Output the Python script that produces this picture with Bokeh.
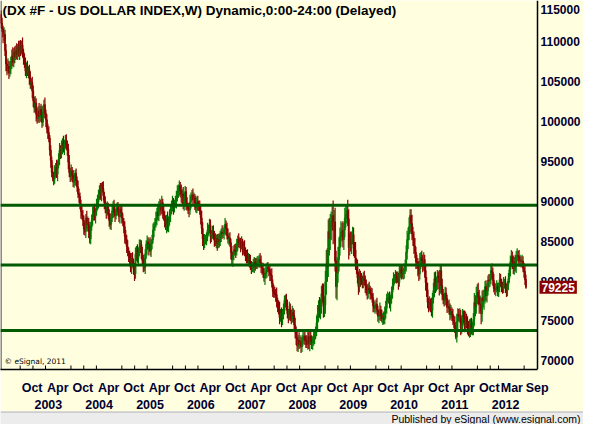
import numpy as np
import pandas as pd
from bokeh.plotting import figure
from bokeh.models import Range1d, FixedTicker, LinearAxis, Label, Span
from bokeh.core.properties import value
from bokeh.layouts import column
from bokeh.embed import file_html
from bokeh.resources import INLINE

# ---------------- data (weekly bars, index points) ----------------
first_open = 113.4
close_2002 = [112.3, 111.6, 110.6,
              110.9, 108.9, 107.2, 106.4,
              106.9, 106.1, 106.6, 107.5,
              108.2, 107.4, 108.7, 108.1, 108.9,
              108.4, 109.3, 108.6, 109.5,
              108.8, 109.6, 108.7, 107.9,
              107.2, 106.3, 106.9, 106.1, 106.5,
              105.4, 104.6, 104.9, 103.8]
close_2003 = [102.6, 101.7, 102.3, 100.9, 100.4,
              101.3, 100.6, 101.5, 100.8,
              99.9, 101.2, 102.1, 101.0,
              100.2, 99.1, 98.6, 97.9,
              96.4, 95.1, 93.6, 93.0, 92.8,
              93.7, 94.2, 93.4, 94.6,
              95.3, 96.4, 96.0, 96.8,
              97.3, 96.6, 97.2, 97.6, 97.1,
              96.5, 94.9, 93.6, 93.1,
              93.8, 93.2, 92.4, 92.9, 93.5,
              92.6, 91.8, 90.9, 90.6,
              89.6, 88.7, 88.2, 87.6]
close_2004 = [86.5, 86.2, 87.9, 87.1, 87.4,
              86.2, 85.3, 86.8, 87.6,
              88.4, 88.9, 88.1, 88.7,
              89.6, 89.9, 90.8, 91.5, 90.9,
              91.7, 91.6, 90.7, 89.8,
              89.2, 88.7, 89.3, 88.4,
              87.6, 87.1, 87.9, 88.8, 89.4,
              88.6, 88.2, 88.9, 89.2,
              88.7, 88.1, 89.0, 88.6,
              87.9, 87.4, 86.8, 85.6, 85.2,
              84.3, 83.7, 83.1, 82.6,
              81.7, 82.9, 82.3, 81.5, 80.9]
close_2005 = [83.4, 83.9, 82.8, 83.6,
              84.3, 84.6, 83.5, 82.6,
              82.0, 81.7, 83.4, 84.6,
              84.9, 84.1, 84.6, 83.8, 84.7,
              85.2, 86.4, 86.9, 87.2,
              87.8, 88.6, 88.2, 89.5,
              89.6, 88.9, 89.8, 88.6, 88.2,
              87.5, 86.9, 87.8, 86.8,
              87.6, 88.2, 88.9, 89.4, 89.8,
              89.2, 89.7, 89.9, 90.6,
              91.1, 91.5, 91.9, 91.3,
              90.5, 90.9, 89.6, 90.6, 91.2]
close_2006 = [89.7, 89.3, 89.1, 88.9,
              89.9, 90.6, 90.8, 90.2,
              90.4, 89.8, 89.2, 89.9, 89.6,
              89.4, 88.8, 87.9, 86.6,
              85.3, 84.6, 85.2, 85.3,
              85.5, 86.4, 86.6, 87.0, 85.6,
              85.9, 86.2, 85.7, 85.1,
              84.9, 85.3, 84.7, 85.2,
              84.9, 85.7, 86.1, 85.9, 86.0,
              86.4, 87.1, 86.6, 85.7,
              85.3, 85.4, 84.8, 83.6,
              82.7, 83.2, 83.9, 83.8, 83.7]
close_2007 = [84.6, 85.2, 84.8, 84.9,
              84.5, 84.7, 83.9, 84.3,
              83.7, 83.3, 83.1, 82.7, 82.8,
              82.5, 82.0, 81.6, 81.7,
              81.9, 82.4, 82.1, 82.0,
              82.4, 82.6, 82.7, 82.3, 81.8,
              81.6, 81.0, 80.4, 80.9,
              81.2, 81.7, 81.6, 81.3, 80.9,
              80.7, 79.7, 78.8, 78.5,
              78.4, 78.3, 77.4, 76.9,
              76.4, 75.4, 75.9, 75.2, 76.0,
              76.3, 77.6, 77.6, 76.9]
close_2008 = [75.9, 75.6, 76.5, 75.8,
              75.3, 76.1, 75.7, 74.5, 73.6,
              72.9, 71.9, 72.6, 72.1,
              72.4, 71.8, 72.5, 72.9,
              73.1, 72.6, 72.5, 72.1, 73.0,
              72.1, 73.1, 72.5, 72.3,
              72.5, 72.9, 73.4, 73.6,
              74.8, 75.9, 76.8, 76.3, 77.1,
              78.4, 78.2, 76.8, 77.0,
              79.9, 82.1, 81.8, 86.2, 85.3,
              86.8, 87.5, 88.2, 86.4,
              87.4, 82.5, 79.3, 81.0]
close_2009 = [82.7, 84.2, 85.6, 86.1, 86.3,
              85.2, 86.4, 87.9, 88.3,
              88.8, 87.8, 84.2, 85.1,
              84.6, 85.4, 85.8, 84.1,
              83.9, 82.2, 81.8, 80.4, 79.3,
              80.6, 80.2, 80.1, 79.9,
              80.4, 80.1, 79.4, 78.9, 78.5,
              79.1, 78.9, 78.5, 78.3,
              77.9, 76.9, 76.6, 76.9,
              77.1, 76.4, 75.6, 75.6, 76.4,
              75.7, 75.3, 75.4, 75.2,
              76.1, 76.6, 77.8, 77.9]
close_2010 = [77.9, 77.1, 77.8, 78.6, 79.4,
              80.4, 80.4, 80.6, 80.4,
              80.4, 79.8, 81.2, 81.5,
              81.0, 80.9, 81.2, 81.5, 81.9,
              83.6, 85.2, 85.9, 86.8,
              88.2, 87.2, 85.9, 85.4,
              84.4, 83.6, 82.4, 82.3, 81.7,
              80.9, 82.5, 82.9, 82.6,
              81.9, 82.7, 81.3, 79.8,
              78.9, 77.3, 76.9, 77.3, 77.0,
              76.3, 77.8, 78.8, 80.3,
              79.3, 79.8, 80.6, 80.5, 79.0]
close_2011 = [81.3, 79.4, 78.3, 77.9,
              77.6, 78.5, 77.8, 76.7,
              76.8, 76.6, 75.8, 76.2,
              75.8, 75.1, 74.8, 74.0, 73.0,
              74.9, 75.8, 75.6, 75.7,
              74.1, 74.5, 75.7, 75.5,
              74.3, 75.2, 75.0, 74.1, 73.8,
              74.1, 74.5, 74.1, 74.2,
              75.2, 77.3, 76.8, 78.2, 78.6,
              78.0, 77.0, 77.1, 75.9,
              77.9, 77.5, 78.1, 79.3,
              78.2, 78.8, 80.1, 80.0, 80.2]
close_2012 = [81.3, 81.1, 80.1, 79.1,
              78.9, 79.1, 79.3, 78.8,
              79.2, 80.2, 79.8, 79.3, 79.0,
              79.8, 79.8, 79.1, 78.8,
              79.5, 80.3, 81.4, 82.4,
              83.0, 82.4, 81.6, 82.4, 81.8,
              83.1, 83.2, 83.1, 82.5,
              82.6, 82.5, 82.5, 81.6, 81.2,
              80.2, 79.225]

# upper / lower shadow lengths of each weekly bar (index points)
up_2002 = [0.5, 0.7, 0.4, 0.9, 0.6, 0.8, 0.5, 1.0, 0.7, 0.9, 0.6,
           0.8, 1.1, 0.5, 0.7, 0.6, 0.9, 0.4, 0.8, 0.6, 0.7, 0.5, 0.9, 0.4,
           0.6, 0.8, 0.5, 0.7, 0.4, 0.6, 0.9, 0.5, 0.7]
dn_2002 = [0.6, 0.4, 0.8, 0.5, 0.7, 0.9, 0.6, 0.4, 0.8, 0.5, 0.7,
           0.9, 0.5, 0.6, 0.8, 0.4, 0.6, 0.7, 0.5, 0.9, 0.6, 0.4, 0.7, 0.8,
           0.5, 0.6, 0.9, 0.4, 0.7, 0.8, 0.5, 0.6, 0.9]
up_2003 = [0.7, 0.5, 0.9, 0.6, 0.8, 0.6, 1.0, 0.5, 0.7, 1.1, 0.8, 0.6, 0.9,
           0.5, 0.7, 0.6, 0.8, 0.4, 0.6, 0.5, 0.9, 0.7, 0.8, 0.6, 1.0, 0.5,
           0.7, 0.9, 0.6, 0.8, 0.6, 0.9, 0.5, 0.7, 0.8, 0.5, 0.7, 0.9, 0.6,
           0.8, 0.5, 0.7, 0.6, 0.4, 0.6, 0.5, 0.8, 0.7, 0.5, 0.6, 0.9, 0.7]
dn_2003 = [0.8, 0.6, 0.5, 0.9, 0.7, 0.5, 0.8, 0.6, 0.9, 0.7, 0.5, 0.8, 0.6,
           0.9, 0.6, 0.8, 0.5, 0.7, 0.9, 0.6, 0.5, 0.8, 0.6, 0.7, 0.5, 0.9,
           0.5, 0.8, 0.7, 0.6, 0.9, 0.5, 0.8, 0.6, 0.7, 0.8, 0.9, 0.6, 0.7,
           0.5, 0.8, 0.6, 0.7, 0.9, 0.7, 0.6, 0.5, 0.8, 0.6, 0.9, 0.5, 0.7]
up_2004 = [0.6, 0.8, 0.5, 0.9, 0.7, 0.5, 0.8, 0.6, 0.7, 0.9, 0.6, 0.8, 0.5,
           0.7, 0.9, 0.6, 0.5, 0.8, 0.6, 0.7, 0.9, 0.5, 0.8, 0.6, 0.7, 0.5,
           0.6, 0.9, 0.5, 0.7, 0.6, 0.8, 0.5, 0.7, 0.6, 0.7, 0.8, 0.5, 0.6,
           0.9, 0.6, 0.5, 0.7, 0.8, 0.6, 0.8, 0.5, 0.7, 0.9, 0.6, 0.7, 0.5, 0.8]
dn_2004 = [0.7, 0.5, 0.8, 0.6, 0.9, 0.8, 0.6, 0.7, 0.5, 0.6, 0.8, 0.5, 0.9,
           0.5, 0.7, 0.8, 0.6, 0.7, 0.9, 0.5, 0.6, 0.8, 0.7, 0.9, 0.5, 0.6,
           0.8, 0.6, 0.7, 0.5, 0.9, 0.6, 0.8, 0.5, 0.7, 0.5, 0.7, 0.9, 0.6,
           0.7, 0.5, 0.8, 0.9, 0.6, 0.8, 0.6, 0.7, 0.5, 0.6, 0.8, 0.5, 0.7, 0.9]
up_2005 = [0.8, 0.5, 0.7, 0.6, 0.9, 0.6, 0.5, 0.8, 0.7, 0.9, 0.6, 0.5,
           0.8, 0.6, 0.7, 0.9, 0.5, 0.6, 0.8, 0.5, 0.7, 0.9, 0.6, 0.8, 0.5,
           0.7, 0.6, 0.9, 0.5, 0.8, 0.6, 0.7, 0.5, 0.9, 0.5, 0.8, 0.6, 0.7, 0.9,
           0.6, 0.5, 0.8, 0.7, 0.9, 0.6, 0.7, 0.5, 0.8, 0.6, 0.9, 0.5, 0.7]
dn_2005 = [0.6, 0.9, 0.5, 0.7, 0.5, 0.8, 0.7, 0.6, 0.9, 0.5, 0.8, 0.6,
           0.7, 0.9, 0.5, 0.6, 0.8, 0.7, 0.5, 0.9, 0.6, 0.5, 0.8, 0.6, 0.7,
           0.9, 0.7, 0.5, 0.8, 0.6, 0.8, 0.5, 0.9, 0.6, 0.7, 0.6, 0.8, 0.5, 0.7,
           0.9, 0.6, 0.5, 0.8, 0.6, 0.7, 0.9, 0.5, 0.7, 0.9, 0.6, 0.8, 0.5]
up_2006 = [0.6, 0.8, 0.5, 0.7, 0.9, 0.5, 0.6, 0.8, 0.7, 0.5, 0.9, 0.6, 0.8,
           0.5, 0.7, 0.6, 0.9, 0.8, 0.6, 0.7, 0.5, 0.6, 0.9, 0.5, 0.8, 0.7,
           0.5, 0.7, 0.8, 0.6, 0.9, 0.5, 0.6, 0.7, 0.8, 0.6, 0.5, 0.9, 0.7,
           0.6, 0.8, 0.5, 0.7, 0.9, 0.6, 0.7, 0.5, 0.8, 0.5, 0.6, 0.7, 0.9]
dn_2006 = [0.8, 0.5, 0.7, 0.9, 0.6, 0.8, 0.5, 0.7, 0.5, 0.9, 0.6, 0.7, 0.8,
           0.6, 0.5, 0.8, 0.7, 0.9, 0.7, 0.5, 0.6, 0.8, 0.5, 0.7, 0.6, 0.9,
           0.7, 0.6, 0.5, 0.8, 0.5, 0.8, 0.9, 0.6, 0.7, 0.5, 0.8, 0.6, 0.5,
           0.8, 0.6, 0.9, 0.5, 0.6, 0.8, 0.5, 0.9, 0.7, 0.9, 0.6, 0.5, 0.8]
up_2007 = [0.7, 0.5, 0.8, 0.6, 0.5, 0.9, 0.6, 0.7, 0.8, 0.5, 0.6, 0.9, 0.7,
           0.6, 0.8, 0.5, 0.7, 0.9, 0.6, 0.5, 0.8, 0.7, 0.5, 0.6, 0.8, 0.9,
           0.5, 0.7, 0.6, 0.8, 0.9, 0.6, 0.7, 0.5, 0.8, 0.6, 0.9, 0.5, 0.7,
           0.8, 0.6, 0.9, 0.5, 0.7, 1.0, 0.6, 0.8, 0.5, 0.9, 0.6, 0.7, 0.8]
dn_2007 = [0.5, 0.8, 0.6, 0.7, 0.9, 0.5, 0.7, 0.6, 0.6, 0.8, 0.9, 0.5, 0.7,
           0.8, 0.6, 0.7, 0.5, 0.6, 0.9, 0.8, 0.5, 0.5, 0.7, 0.9, 0.6, 0.8,
           0.8, 0.6, 0.5, 0.9, 0.6, 0.8, 0.5, 0.7, 0.9, 0.7, 0.5, 0.8, 0.6,
           0.5, 0.9, 0.7, 0.8, 0.6, 0.8, 0.5, 1.0, 0.7, 0.8, 0.5, 0.9, 0.6]
up_2008 = [0.8, 0.6, 0.9, 0.7, 0.6, 0.8, 0.5, 0.7, 0.9, 0.7, 0.9, 0.6, 1.0,
           0.8, 0.6, 0.7, 0.9, 0.5, 0.8, 0.6, 0.7, 0.9, 0.8, 0.6, 0.9, 0.7,
           0.6, 0.8, 0.5, 0.7, 0.9, 1.1, 0.8, 1.2, 0.7, 1.0, 1.3, 1.5, 1.1,
           1.4, 1.8, 2.0, 1.5, 1.7, 1.6, 1.2, 1.1, 1.9, 1.5, 1.8, 1.3, 2.0]
dn_2008 = [0.6, 0.9, 0.5, 0.8, 0.7, 0.5, 0.9, 0.6, 0.8, 0.9, 0.7, 0.8, 0.6,
           0.5, 0.8, 0.7, 0.6, 0.8, 0.6, 0.9, 0.5, 0.7, 0.6, 0.9, 0.5, 0.8,
           0.9, 0.6, 0.8, 0.7, 0.5, 0.8, 1.0, 0.9, 1.1, 1.2, 0.9, 1.4, 1.3,
           1.1, 1.6, 1.9, 1.3, 2.1, 1.4, 1.7, 1.2, 1.8, 1.6, 1.3, 1.5, 1.7]
up_2009 = [1.6, 1.3, 1.1, 1.4, 1.0, 1.2, 0.9, 1.3, 1.1, 0.8, 1.4, 1.2, 0.9,
           1.1, 0.8, 1.0, 0.9, 0.8, 1.0, 0.7, 0.9, 0.8, 0.9, 0.7, 0.8, 0.6,
           0.7, 0.9, 0.6, 0.8, 0.7, 0.6, 0.8, 0.5, 0.7, 0.8, 0.6, 0.7, 0.5,
           0.6, 0.8, 0.5, 0.7, 0.9, 0.5, 0.7, 0.6, 0.8, 0.7, 0.9, 0.6, 0.8]
dn_2009 = [1.2, 1.5, 1.0, 1.3, 1.1, 1.0, 1.3, 0.9, 1.2, 1.1, 0.9, 1.5, 1.0,
           0.9, 1.2, 0.8, 1.0, 1.0, 0.8, 0.9, 0.7, 1.0, 0.7, 0.9, 0.6, 0.8,
           0.8, 0.6, 0.9, 0.7, 0.8, 0.7, 0.5, 0.8, 0.6, 0.6, 0.8, 0.5, 0.7,
           0.8, 0.6, 0.7, 0.9, 0.5, 0.7, 0.5, 0.8, 0.6, 0.6, 0.8, 0.7, 0.5]
up_2010 = [0.6, 0.8, 0.5, 0.7, 0.9, 0.7, 0.5, 0.8, 0.6, 0.8, 0.6, 0.7, 0.5,
           0.6, 0.9, 0.5, 0.7, 0.8, 0.9, 1.1, 0.8, 1.2, 0.8, 0.8, 1.1, 0.9,
           0.8, 1.0, 0.7, 0.9, 0.6, 0.8, 1.0, 0.7, 0.9, 0.7, 0.9, 0.6, 0.8,
           0.7, 0.9, 0.6, 0.8, 0.5, 0.9, 0.7, 1.0, 0.8, 0.9, 0.7, 0.8, 0.6, 0.9]
dn_2010 = [0.7, 0.5, 0.9, 0.6, 0.8, 0.5, 0.8, 0.6, 0.7, 0.6, 0.9, 0.5, 0.8,
           0.8, 0.6, 0.7, 0.9, 0.6, 0.7, 0.9, 1.2, 0.8, 0.9, 1.1, 0.8, 1.0,
           1.0, 0.7, 0.9, 0.8, 1.1, 0.9, 0.7, 1.0, 0.8, 0.8, 0.6, 0.9, 1.0,
           0.9, 0.7, 0.8, 0.6, 0.9, 0.7, 0.9, 0.6, 0.8, 0.8, 0.6, 0.9, 0.7, 0.8]
up_2011 = [0.8, 0.6, 0.9, 0.7, 0.6, 0.8, 0.7, 0.5, 0.7, 0.9, 0.6, 0.8,
           0.5, 0.7, 0.6, 0.8, 0.5, 1.0, 0.8, 0.7, 0.9, 0.7, 0.9, 0.8, 0.6,
           0.8, 1.0, 0.7, 0.6, 0.9, 1.1, 0.8, 0.9, 0.7, 0.8, 1.2, 0.9, 1.1, 1.0,
           1.2, 0.9, 1.1, 0.8, 0.9, 1.0, 0.8, 0.7, 0.8, 0.9, 0.6, 0.8, 0.7]
dn_2011 = [0.6, 0.9, 0.7, 0.8, 0.8, 0.6, 0.9, 0.7, 0.6, 0.8, 0.7, 0.5,
           0.8, 0.6, 0.7, 0.5, 0.3, 0.7, 0.9, 0.6, 0.8, 0.9, 0.7, 0.5, 0.8,
           0.7, 0.6, 0.9, 0.8, 0.7, 0.9, 1.1, 0.8, 0.9, 1.0, 0.8, 1.2, 0.9, 1.1,
           0.9, 1.1, 0.8, 1.3, 1.0, 0.8, 1.1, 0.9, 0.7, 0.9, 0.6, 0.8, 0.7]
up_2012 = [0.7, 0.9, 0.6, 0.8, 0.7, 0.6, 0.8, 0.5, 0.6, 0.8, 0.7, 0.5, 0.6,
           0.7, 0.5, 0.8, 0.6, 0.5, 0.7, 0.6, 0.8, 0.9, 0.7, 0.8, 0.6, 0.9,
           0.7, 0.9, 0.6, 0.8, 0.7, 0.5, 0.8, 0.6, 0.7, 0.8, 0.6]
dn_2012 = [0.6, 0.8, 0.7, 0.5, 0.6, 0.8, 0.5, 0.7, 0.8, 0.6, 0.5, 0.7, 0.6,
           0.5, 0.7, 0.6, 0.8, 0.7, 0.6, 0.5, 0.8, 0.6, 0.9, 0.7, 0.8, 0.6,
           0.8, 0.6, 0.9, 0.7, 0.6, 0.8, 0.7, 0.5, 0.8, 0.7, 0.2]
first_week = "2002-05-17"

levels = [89500, 82000, 73800]
y_ticks = [70000, 75000, 80000, 85000, 90000, 95000, 100000, 105000, 110000]
y_top_tick = 115000
last_label = "79225"

month_dates = ["2002-10-01", "2003-04-01", "2003-10-01", "2004-04-01", "2004-10-01",
               "2005-04-01", "2005-10-01", "2006-04-01", "2006-10-01", "2007-04-01",
               "2007-10-01", "2008-04-01", "2008-10-01", "2009-04-01", "2009-10-01",
               "2010-04-01", "2010-10-01", "2011-04-01", "2011-10-01", "2012-03-01",
               "2012-09-01"]
month_labels = ["Oct", "Apr", "Oct", "Apr", "Oct", "Apr", "Oct", "Apr", "Oct", "Apr",
                "Oct", "Apr", "Oct", "Apr", "Oct", "Apr", "Oct", "Apr", "Oct", "Mar", "Sep"]
year_dates = ["2003-01-01", "2004-01-01", "2005-01-01", "2006-01-01", "2007-01-01",
              "2008-01-01", "2009-01-01", "2010-01-01", "2011-01-01", "2012-01-01"]
year_labels = ["2003", "2004", "2005", "2006", "2007", "2008", "2009", "2010", "2011", "2012"]

# ---------------- styling ----------------
CREAM = "#ffffe0"
GREEN = "#007800"
RED = "#8c0000"
LINE_GREEN = "#005a00"
TXT = "#000030"
FONT = "Liberation Sans"
TOTAL_W = 583
FH = 369
DW = 537                      # width of the price area (up to the right axis line)
XS, XE = -20.2, 531.3          # weeks relative to 2002-10-01
YS, YE = 68920, 115150
LBL_SIZE = 12.5

closes = np.array(close_2002 + close_2003 + close_2004 + close_2005 + close_2006 +
                  close_2007 + close_2008 + close_2009 + close_2010 + close_2011 +
                  close_2012) * 1000.0
ups = np.array(up_2002 + up_2003 + up_2004 + up_2005 + up_2006 + up_2007 + up_2008 +
               up_2009 + up_2010 + up_2011 + up_2012) * 1000.0
dns = np.array(dn_2002 + dn_2003 + dn_2004 + dn_2005 + dn_2006 + dn_2007 + dn_2008 +
               dn_2009 + dn_2010 + dn_2011 + dn_2012) * 1000.0
opens = np.concatenate([[first_open * 1000.0], closes[:-1]])
body_top = np.maximum(opens, closes)
body_bot = np.minimum(opens, closes)
highs = body_top + ups
lows = body_bot - dns
dates = pd.date_range(first_week, periods=len(closes), freq="7D")
origin = pd.Timestamp("2002-10-01")
wx = np.array((dates - origin).days / 7.0)

def wk(d):
    return (pd.Timestamp(d) - origin).days / 7.0

EM = {"O": .778, "c": .556, "t": .333, "A": .722, "p": .611, "r": .389,
      "M": .833, "a": .556, "S": .667, "e": .556}
def text_w(s, size):
    return sum(EM.get(ch, .556) for ch in s) * size

ppw = DW / (XE - XS)
XR = XS + TOTAL_W / ppw         # frame covers the label column too

def centers(dlist, labels, size, gap=1.5):
    out, prev_end = [], -1e9
    for d, s in zip(dlist, labels):
        t = wk(d)
        start = max(t + gap / ppw, prev_end + 1.0 / ppw)
        wpx = text_w(s, size)
        out.append(round(start + wpx / 2 / ppw, 4))
        prev_end = start + wpx / ppw
    return out

p = figure(frame_width=TOTAL_W, frame_height=FH, x_range=Range1d(XS, XR), y_range=Range1d(YS, YE),
           toolbar_location=None, output_backend="svg",
           min_border_left=0, min_border_top=0, min_border_bottom=0, min_border_right=0,
           background_fill_color=CREAM, border_fill_color=CREAM, outline_line_color=None)
p.grid.visible = False
p.yaxis.visible = False

# left border
p.segment(x0=[XS], x1=[XS], y0=[YS], y1=[YE], line_color="#8a8a8a", line_width=3)

# bars
up = closes >= opens
cols = np.where(up, GREEN, RED)
p.segment(x0=wx, x1=wx, y0=lows, y1=highs, line_color=cols, line_width=1.2)
p.vbar(x=wx, width=1.0, top=body_top, bottom=body_bot,
       fill_color=cols, line_color=cols, line_width=0.8)

# horizontal levels
p.segment(x0=[XS] * len(levels), x1=[XE] * len(levels), y0=levels, y1=levels,
          line_color=LINE_GREEN, line_width=3)

# x tick marks
tick_pos = [wk(d) for d in month_dates + year_dates]
tick_h = 4.0 / FH * (YE - YS)
p.segment(x0=tick_pos, x1=tick_pos, y0=[YS] * len(tick_pos), y1=[YS + tick_h] * len(tick_pos),
          line_color="black", line_width=1)

# right price scale
p.segment(x0=[XE], x1=[XE], y0=[YS], y1=[YE], line_color="black", line_width=1.5)
p.text(x=[XE] * len(y_ticks), y=y_ticks, text=[str(t) for t in y_ticks], x_offset=3,
       text_baseline="middle", text_font=value(FONT), text_font_style="bold",
       text_font_size="12px", text_color=TXT)
p.add_layout(Label(x=XE, y=y_top_tick, x_offset=3, y_offset=-8, text_baseline="middle",
                   text=str(y_top_tick), text_font=FONT, text_font_style="bold",
                   text_font_size="12px", text_color=TXT))
p.add_layout(Label(x=XE, y=closes[-1], x_offset=2, y_offset=0, text_baseline="middle",
                   text=last_label, text_font=FONT, text_font_style="bold",
                   text_font_size="12px", text_color="white",
                   background_fill_color="#8b0000", padding=2))

# month axis
mc = centers(month_dates, month_labels, LBL_SIZE)
xa = p.xaxis[0]
xa.ticker = FixedTicker(ticks=mc)
xa.major_label_overrides = dict(zip(mc, month_labels))
xa.bounds = (XS, XE)
xa.major_tick_line_color = None
xa.minor_tick_line_color = None
xa.axis_line_color = "black"
xa.axis_line_width = 1.5
xa.major_label_standoff = 5
xa.major_label_text_font = FONT
xa.major_label_text_font_style = "bold"
xa.major_label_text_font_size = f"{LBL_SIZE}px"
xa.major_label_text_color = TXT

# year axis
yc = centers(year_dates, year_labels, LBL_SIZE)
ya2 = LinearAxis(ticker=FixedTicker(ticks=yc), major_label_overrides=dict(zip(yc, year_labels)),
                 major_tick_line_color=None, minor_tick_line_color=None, axis_line_color=None,
                 major_label_standoff=-4, major_label_text_font=FONT,
                 major_label_text_font_style="bold", major_label_text_font_size=f"{LBL_SIZE}px",
                 major_label_text_color=TXT)
p.add_layout(ya2, "below")

# texts
p.add_layout(Label(x=XS, y=YE, x_offset=2, y_offset=-2, text_baseline="top",
                   text="(DX #F - US DOLLAR INDEX,W) Dynamic,0:00-24:00 (Delayed)",
                   text_font=FONT, text_font_style="bold", text_font_size="13.5px",
                   text_color="black"))
p.add_layout(Label(x=XS, y=YS, x_offset=4, y_offset=4, text_baseline="bottom",
                   text="\u00a9 eSignal, 2011", text_font="DejaVu Sans", text_font_size="7.5px",
                   text_color="black"))

# publisher bar
bar = figure(width=TOTAL_W, height=13, x_range=Range1d(0, 1), y_range=Range1d(0, 1),
             toolbar_location=None, output_backend="svg", min_border=0,
             background_fill_color="#ececec", border_fill_color="#ececec",
             outline_line_color=None)
bar.axis.visible = False
bar.grid.visible = False
bar.add_layout(Span(location=0.97, dimension="width", line_color="#9a9a9a", line_width=1))
bar.add_layout(Label(x=1, y=0.45, x_offset=-3, text="Published by eSignal (www.esignal.com)",
                     text_align="right", text_baseline="middle", text_font=FONT,
                     text_font_size="10.5px", text_color="black"))

layout = column(p, bar, spacing=0)
open("out.html", "w").write(file_html(layout, INLINE))
